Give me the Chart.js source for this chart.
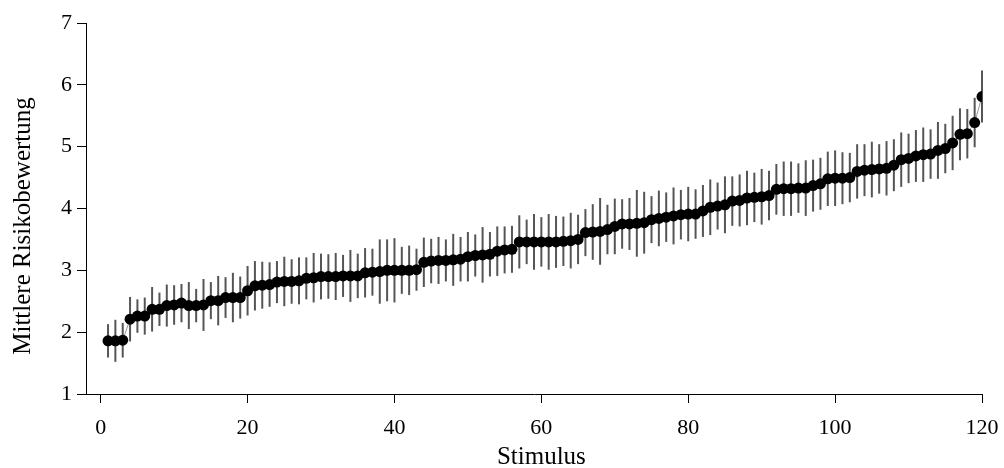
<!DOCTYPE html>
<html>
<head>
<meta charset="utf-8">
<script src="https://cdn.jsdelivr.net/npm/chart.js@4"></script>
<style>
  html, body { margin: 0; padding: 0; background: #fff; }
  #wrap { width: 1004px; height: 468px; }
</style>
</head>
<body>
<div id="wrap"><canvas id="chart" width="1004" height="468"></canvas></div>
<script>
// Mean risk rating per stimulus (sorted), with error bar half-lengths.

var MEANS = [
  1.86, 1.86, 1.87, 2.21, 2.26, 2.26, 2.37, 2.37, 2.43, 2.44,
  2.47, 2.43, 2.43, 2.44, 2.51, 2.51, 2.56, 2.56, 2.56, 2.67,
  2.75, 2.76, 2.77, 2.81, 2.82, 2.82, 2.83, 2.87, 2.88, 2.90,
  2.90, 2.90, 2.91, 2.91, 2.91, 2.96, 2.97, 2.98, 3.00, 3.00,
  3.00, 3.00, 3.01, 3.13, 3.15, 3.16, 3.16, 3.17, 3.18, 3.22,
  3.24, 3.25, 3.26, 3.31, 3.33, 3.34, 3.46, 3.46, 3.46, 3.46,
  3.46, 3.46, 3.47, 3.48, 3.50, 3.61, 3.62, 3.63, 3.66, 3.71,
  3.75, 3.75, 3.76, 3.77, 3.82, 3.84, 3.86, 3.88, 3.90, 3.91,
  3.91, 3.96, 4.02, 4.04, 4.06, 4.12, 4.13, 4.17, 4.18, 4.19,
  4.21, 4.31, 4.32, 4.32, 4.33, 4.33, 4.37, 4.40, 4.48, 4.49,
  4.49, 4.50, 4.60, 4.62, 4.63, 4.64, 4.65, 4.70, 4.79, 4.81,
  4.85, 4.87, 4.88, 4.94, 4.97, 5.06, 5.20, 5.21, 5.39, 5.81
];

var ERRS = [
  0.27, 0.34, 0.28, 0.36, 0.27, 0.30, 0.36, 0.27, 0.34, 0.32,
  0.31, 0.38, 0.27, 0.42, 0.30, 0.40, 0.33, 0.40, 0.34, 0.40,
  0.40, 0.38, 0.36, 0.34, 0.40, 0.36, 0.38, 0.34, 0.40, 0.37,
  0.36, 0.38, 0.34, 0.42, 0.36, 0.40, 0.38, 0.52, 0.50, 0.52,
  0.38, 0.40, 0.34, 0.40, 0.36, 0.38, 0.34, 0.42, 0.36, 0.40,
  0.34, 0.45, 0.36, 0.40, 0.38, 0.38, 0.43, 0.36, 0.45, 0.40,
  0.45, 0.42, 0.40, 0.45, 0.40, 0.38, 0.45, 0.54, 0.40, 0.45,
  0.40, 0.42, 0.54, 0.50, 0.38, 0.45, 0.40, 0.46, 0.40, 0.44,
  0.40, 0.42, 0.45, 0.38, 0.46, 0.40, 0.42, 0.44, 0.40, 0.45,
  0.40, 0.41, 0.44, 0.44, 0.40, 0.45, 0.42, 0.42, 0.44, 0.45,
  0.42, 0.40, 0.44, 0.42, 0.45, 0.40, 0.44, 0.42, 0.44, 0.40,
  0.42, 0.44, 0.40, 0.46, 0.40, 0.44, 0.42, 0.40, 0.40, 0.42
];

// stimulus numbers 1..120
var STIMULI = MEANS.map(function(_, i) { return i + 1; });

var X_TICKS = [0, 20, 40, 60, 80, 100, 120];
var Y_TICKS = [1, 2, 3, 4, 5, 6, 7];

var X_TITLE = "Stimulus";
var Y_TITLE = "Mittlere Risikobewertung";
var FONT = "'Liberation Serif', 'Times New Roman', serif";

var errorBars = {
  id: "errorBars",
  beforeDatasetsDraw: function(chart) {
    var ctx = chart.ctx;
    var xs  = chart.scales.x;
    var ys  = chart.scales.y;
    ctx.save();
    ctx.strokeStyle = "#555555";
    ctx.lineWidth   = 2;
    MEANS.forEach(function(m, i) {
      var px = xs.getPixelForValue(STIMULI[i]);
      ctx.beginPath();
      ctx.moveTo(px, ys.getPixelForValue(m - ERRS[i]));
      ctx.lineTo(px, ys.getPixelForValue(m + ERRS[i]));
      ctx.stroke();
    });
    ctx.restore();
  }
};

// titles are off-centre in the original (centred on the data, not the axis box),
// so draw them by hand
var axisTitles = {
  id: "axisTitles",
  afterDraw: function(chart) {
    var ctx = chart.ctx;
    var xs  = chart.scales.x;
    ctx.save();
    ctx.fillStyle = "#000";
    ctx.font = "25px " + FONT;
    ctx.textAlign = "center";
    ctx.textBaseline = "middle";
    var cx = (xs.getPixelForValue(X_TICKS[0]) + xs.getPixelForValue(X_TICKS[X_TICKS.length - 1])) / 2;
    ctx.fillText(X_TITLE, cx, 457);
    ctx.translate(23, 226);
    ctx.rotate(-Math.PI / 2);
    ctx.fillText(Y_TITLE, 0, 0);
    ctx.restore();
  }
};

new Chart(document.getElementById("chart"), {
  type: "line",
  data: {
    datasets: [{
      data: STIMULI.map(function(s, i) { return { x: s, y: MEANS[i] }; }),
      borderColor: "#999999",
      borderWidth: 1,
      pointRadius: 5.5,
      pointBackgroundColor: "#000",
      pointBorderColor: "#000",
      pointBorderWidth: 0,
      tension: 0,
      fill: false,
    }],
  },
  options: {
    responsive: false,
    animation: false,
    devicePixelRatio: 1,
    layout: { padding: { top: 23, right: 22, left: 0, bottom: 0 } },
    plugins: { legend: { display: false }, tooltip: { enabled: false } },
    scales: {
      x: {
        type: "linear",
        min: -2,
        max: 120,
        afterBuildTicks: function(scale) {
          scale.ticks = X_TICKS.map(function(v) { return { value: v }; });
        },
        afterFit: function(scale) {
          scale.height = 74;
          scale.paddingLeft = 0;
          scale.paddingRight = 0;
        },
        grid: { drawOnChartArea: false, drawTicks: true, tickLength: 9, color: "#000", lineWidth: 1 },
        border: { display: true, color: "#000", width: 1 },
        ticks: { color: "#000", padding: 12, maxRotation: 0, font: { family: FONT, size: 22 } },
      },
      y: {
        min: 1,
        max: 7,
        afterBuildTicks: function(scale) {
          scale.ticks = Y_TICKS.map(function(v) { return { value: v }; });
        },
        afterFit: function(scale) {
          scale.width = 86;
          scale.paddingTop = 0;
          scale.paddingBottom = 0;
        },
        grid: { drawOnChartArea: false, drawTicks: true, tickLength: 9, color: "#000", lineWidth: 1 },
        border: { display: true, color: "#000", width: 1 },
        ticks: { color: "#000", padding: 5, font: { family: FONT, size: 22 } },
      },
    },
  },
  plugins: [errorBars, axisTitles],
});
</script>
</body>
</html>
